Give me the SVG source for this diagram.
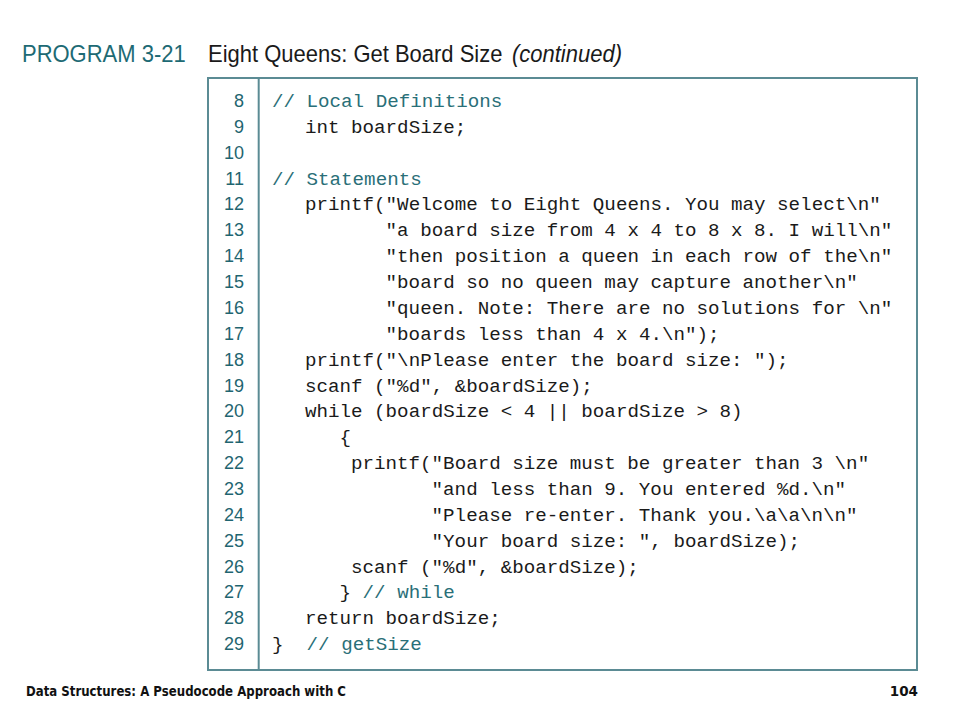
<svg xmlns="http://www.w3.org/2000/svg" width="960" height="720" viewBox="0 0 960 720">
<style>
.ln{font-family:"Liberation Sans",Arial,sans-serif;font-size:18px;fill:#1f6570;text-anchor:end}
.c{font-family:"Liberation Mono","Courier New",monospace;font-size:19.2px;fill:#1a1a1a}
.cm{font-family:"Liberation Mono","Courier New",monospace;font-size:19.2px;fill:#2a6f78}
.ft{font-family:"DejaVu Sans",Verdana,sans-serif;font-size:13.5px;font-weight:bold;fill:#111}
.tt{font-family:"Liberation Sans",Arial,sans-serif;font-size:22px}
</style>
<rect width="960" height="720" fill="#ffffff"/>
<g id="title" transform="translate(0,62) scale(1,1.08) translate(0,-62)">
<text class="tt" x="22" y="62" fill="#1d6a74">PROGRAM 3-21</text>
<text class="tt" x="208" y="62" fill="#1a1a1a">Eight Queens: Get Board Size</text>
<text class="tt" x="512" y="62" font-style="italic" fill="#1a1a1a">(continued)</text>
</g>
<g id="code-box">
<rect x="208" y="78" width="709" height="592" fill="none" stroke="#5b8b94" stroke-width="2"/>
<line x1="258.7" y1="78" x2="258.7" y2="670" stroke="#5b8b94" stroke-width="2"/>
</g>
<g id="line-numbers">
<text class="ln" x="244" y="107">8</text>
<text class="ln" x="244" y="132.9">9</text>
<text class="ln" x="244" y="158.7">10</text>
<text class="ln" x="244" y="184.6">11</text>
<text class="ln" x="244" y="210.4">12</text>
<text class="ln" x="244" y="236.3">13</text>
<text class="ln" x="244" y="262.2">14</text>
<text class="ln" x="244" y="288">15</text>
<text class="ln" x="244" y="313.9">16</text>
<text class="ln" x="244" y="339.7">17</text>
<text class="ln" x="244" y="365.6">18</text>
<text class="ln" x="244" y="391.5">19</text>
<text class="ln" x="244" y="417.3">20</text>
<text class="ln" x="244" y="443.2">21</text>
<text class="ln" x="244" y="469">22</text>
<text class="ln" x="244" y="494.9">23</text>
<text class="ln" x="244" y="520.8">24</text>
<text class="ln" x="244" y="546.6">25</text>
<text class="ln" x="244" y="572.5">26</text>
<text class="ln" x="244" y="598.3">27</text>
<text class="ln" x="244" y="624.2">28</text>
<text class="ln" x="244" y="650.1">29</text>
</g>
<g id="code">
<text class="cm" x="272" y="107">// Local Definitions</text>
<text class="c" x="305" y="132.9">int boardSize;</text>
<text class="cm" x="272" y="184.6">// Statements</text>
<text class="c" x="305" y="210.4">printf("Welcome to Eight Queens. You may select\n"</text>
<text class="c" x="385.6" y="236.3">"a board size from 4 x 4 to 8 x 8. I will\n"</text>
<text class="c" x="385.6" y="262.2">"then position a queen in each row of the\n"</text>
<text class="c" x="385.6" y="288">"board so no queen may capture another\n"</text>
<text class="c" x="385.6" y="313.9">"queen. Note: There are no solutions for \n"</text>
<text class="c" x="385.6" y="339.7">"boards less than 4 x 4.\n");</text>
<text class="c" x="305" y="365.6">printf("\nPlease enter the board size: ");</text>
<text class="c" x="305" y="391.5">scanf ("%d", &amp;boardSize);</text>
<text class="c" x="305" y="417.3">while (boardSize &lt; 4 || boardSize &gt; 8)</text>
<text class="c" x="339.6" y="443.2">{</text>
<text class="c" x="351" y="469">printf("Board size must be greater than 3 \n"</text>
<text class="c" x="431.6" y="494.9">"and less than 9. You entered %d.\n"</text>
<text class="c" x="431.6" y="520.8">"Please re-enter. Thank you.\a\a\n\n"</text>
<text class="c" x="431.6" y="546.6">"Your board size: ", boardSize);</text>
<text class="c" x="351" y="572.5">scanf ("%d", &amp;boardSize);</text>
<text class="c" x="339.6" y="598.3">}</text>
<text class="cm" x="362.6" y="598.3">// while</text>
<text class="c" x="305" y="624.2">return boardSize;</text>
<text class="c" x="272" y="650.1">}</text>
<text class="cm" x="306.6" y="650.1">// getSize</text>
</g>
<g id="footer">
<text class="ft" x="26" y="696" textLength="320" lengthAdjust="spacingAndGlyphs">Data Structures: A Pseudocode Approach with C</text>
<text class="ft" x="918" y="696" text-anchor="end">104</text>
</g>
</svg>
